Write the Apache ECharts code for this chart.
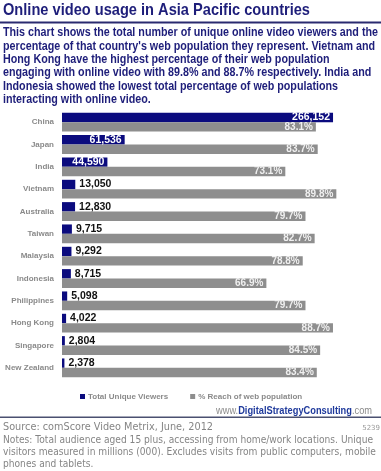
<!DOCTYPE html>
<html><head><meta charset="utf-8">
<script src="https://cdn.jsdelivr.net/npm/echarts@6/dist/echarts.min.js"></script>
<style>html,body{margin:0;padding:0;background:#fff}#c{width:381px;height:471px}</style>
</head><body><div id="c"></div>
<script>
const categories = ['China','Japan','India','Vietnam','Australia','Taiwan','Malaysia','Indonesia','Philippines','Hong Kong','Singapore','New Zealand'];
const viewers = [266152,61536,44590,13050,12830,9715,9292,8715,5098,4022,2804,2378];
const reach = [83.1,83.7,73.1,89.8,79.7,82.7,78.8,66.9,79.7,88.7,84.5,83.4];
const seriesNames = ['Total Unique Viewers','% Reach of web population'];
const titleText = 'Online video usage in Asia Pacific countries';
const descLines = [
  "This chart shows the total number of unique online video viewers and the",
  "percentage of that country's web population they represent. Vietnam and",
  "Hong Kong have the highest percentage of their web population",
  "engaging with online video with 89.8% and 88.7% respectively. India and",
  "Indonesia showed the lowest total percentage of web populations",
  "interacting with online video."
];
const sourceText = 'Source: comScore Video Metrix, June, 2012';
const noteLines = [
  'Notes: Total audience aged 15 plus, accessing from home/work locations. Unique',
  'visitors measured in millions (000). Excludes visits from public computers, mobile',
  'phones and tablets.'
];
const idText = '5239';

const NAVY = '#0b0b7e', GREY = '#8e8e8e', TXT = '#1e1e7a', FOOT = '#858585';
const ctx = document.createElement('canvas').getContext('2d');
function fit(text, font, target){ ctx.font = font; return target / ctx.measureText(text).width; }

const F_TITLE = 'bold 17px "Liberation Sans"';
const F_DESC = 'bold 12px "Liberation Sans"';
const F_SRC = '11px "DejaVu Sans"';
const F_NOTE = '10px "DejaVu Sans"';
const F_WWW = '11px "Liberation Sans"';
const F_WWWB = 'bold 11px "Liberation Sans"';

const sTitle = fit(titleText, F_TITLE, 307);
const sDesc = fit(descLines[0], F_DESC, 375);
const sSrc = fit(sourceText, F_SRC, 210);
const sNote = fit(noteLines[0], F_NOTE, 370);
ctx.font = F_WWW; const wA = ctx.measureText('www.').width + ctx.measureText('.com').width;
ctx.font = F_WWWB; const wB = ctx.measureText('DigitalStrategyConsulting').width;
const sWww = 156 / (wA + wB);

const chart = echarts.init(document.getElementById('c'), null, {renderer:'canvas'});
const fmt = v => v.toLocaleString('en-US');
chart.setOption({
  animation:false,
  backgroundColor:'#fff',
  graphic:[
    {type:'text', x:3, y:1.5, scaleX:sTitle, style:{text:titleText, font:F_TITLE, fill:TXT, lineHeight:17, verticalAlign:'top'}},
    {type:'rect', shape:{x:0,y:21.5,width:381,height:2}, style:{fill:'#2a2a70'}},
    {type:'text', x:3, y:26.5, scaleX:sDesc, style:{text:descLines.join('\n'), font:F_DESC, fill:TXT, lineHeight:13.3, verticalAlign:'top'}},
    {type:'text', x:372, y:405, scaleX:sWww, style:{text:'{a|www.}{b|DigitalStrategyConsulting}{a|.com}', align:'right', verticalAlign:'top',
      rich:{a:{font:F_WWW, fill:'#8a8a8a', lineHeight:12}, b:{font:F_WWWB, fill:'#1f3a9c', lineHeight:12}}}},
    {type:'rect', shape:{x:0,y:416.5,width:381,height:1.5}, style:{fill:'#4a5070'}},
    {type:'text', x:3, y:421.5, scaleX:sSrc, style:{text:sourceText, font:F_SRC, fill:FOOT, lineHeight:12, verticalAlign:'top'}},
    {type:'text', x:380, y:424, style:{text:idText, font:'7px "DejaVu Sans"', fill:'#9a9a9a', align:'right', verticalAlign:'top', lineHeight:8}},
    {type:'text', x:3, y:434, scaleX:sNote, style:{text:noteLines.join('\n'), font:F_NOTE, fill:FOOT, lineHeight:12, verticalAlign:'top'}}
  ],
  legend:{
    data:seriesNames, left:80, top:392.5, itemWidth:5, itemHeight:5, itemGap:22, icon:'rect', padding:0,
    textStyle:{fontFamily:'Liberation Sans', fontWeight:'bold', fontSize:8, color:'#8a8a8a', padding:[0,0,0,-2]}
  },
  grid:{left:62, top:111, width:305.5, height:268, containLabel:false},
  xAxis:[
    {type:'value', min:0, max:300000, show:false},
    {type:'value', min:0, max:100, show:false}
  ],
  yAxis:{type:'category', data:categories, inverse:true,
    axisLine:{show:false}, axisTick:{show:false}, splitLine:{show:false},
    axisLabel:{margin:8, fontFamily:'Liberation Sans', fontWeight:'bold', fontSize:8, color:'#8a8a8a'}},
  series:[
    {name:seriesNames[0], type:'bar', xAxisIndex:0, barGap:'0%', barCategoryGap:'16%',
     itemStyle:{color:NAVY},
     data:viewers.map(v => ({value:v, label:{
       position: v > 30000 ? 'insideRight' : 'right',
       color: v > 30000 ? '#fff' : '#111', distance: v > 30000 ? 3 : 4}})),
     label:{show:true, formatter:p => fmt(p.value), fontFamily:'Liberation Sans', fontWeight:'bold', fontSize:10.5}},
    {name:seriesNames[1], type:'bar', xAxisIndex:1, barGap:'0%', barCategoryGap:'16%',
     itemStyle:{color:GREY},
     data:reach,
     label:{show:true, position:'insideRight', distance:3, formatter:'{c}%', color:'#f0f0f0',
       fontFamily:'Liberation Sans', fontWeight:'bold', fontSize:10}}
  ]
});
</script></body></html>
